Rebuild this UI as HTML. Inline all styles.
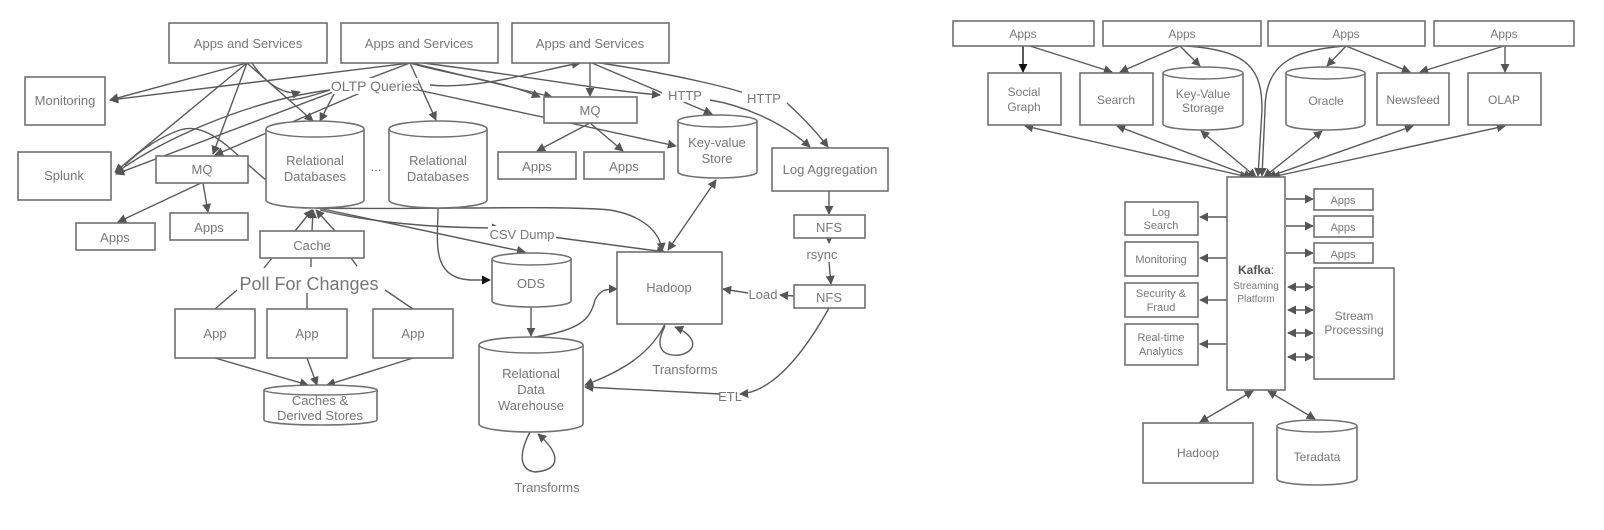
<!DOCTYPE html>
<html><head><meta charset="utf-8"><style>
html,body{margin:0;padding:0;background:#fff;}
svg{display:block;}
text{font-family:"Liberation Sans",sans-serif;fill:#777;text-anchor:middle;}
.b{fill:#fff;stroke:#707070;stroke-width:1.6;}
.l{fill:none;stroke:#5a5a5a;stroke-width:1.4;}
</style></head><body>
<svg width="1604" height="530" viewBox="0 0 1604 530" xmlns="http://www.w3.org/2000/svg">
<defs>
<marker id="a" viewBox="0 0 10 10" refX="9" refY="5" markerWidth="9" markerHeight="9" orient="auto-start-reverse" markerUnits="userSpaceOnUse"><path d="M0,0 L10,5 L0,10 z" fill="#555"/></marker>
<marker id="k" viewBox="0 0 10 10" refX="9" refY="5" markerWidth="9" markerHeight="9" orient="auto-start-reverse" markerUnits="userSpaceOnUse"><path d="M0,0 L10,5 L0,10 z" fill="#111"/></marker>
</defs>

<!-- ========== LEFT DIAGRAM ========== -->
<!-- connectors -->
<g class="l" marker-end="url(#a)">
<path d="M247,63 L110,100"/>
<path d="M247,63 L115,172"/>
<path d="M247,63 L213,154"/>
<path d="M247,63 L313,121"/>
<path d="M252,63 C270,90 290,95 300,92"/>
<path d="M335,92 L320,121"/>
<path d="M360,93 L215,155"/>
<path d="M330,90 C250,100 160,140 116,173"/>
<path d="M410,63 L110,100"/>
<path d="M410,63 L116,174"/>
<path d="M410,63 L436,120"/>
<path d="M418,90 L676,146"/>
<path d="M410,63 C450,75 500,80 540,97"/>
<path d="M412,63 L552,97"/>
<path d="M430,85 C480,90 540,70 580,63"/>
<path d="M590,63 L590,96"/>
<path d="M592,63 L712,114"/>
<path d="M415,62 C520,75 600,90 660,95"/>
<path d="M710,100 C740,105 780,120 810,147"/>
<path d="M600,63 C680,75 740,90 755,97"/>
<path d="M787,103 C800,115 815,130 828,147"/>
<path d="M590,123 L537,151"/>
<path d="M590,123 L623,151"/>
<path d="M201,183 L118,222"/>
<path d="M203,183 L208,212"/>
<path d="M295,231 L312,210"/>
<path d="M312,231 L313,210"/>
<path d="M335,231 L316,210"/>
<path d="M716,180 L668,250" marker-start="url(#a)"/>
<path d="M315,208 C420,210 560,205 610,210 C640,215 660,230 662,251"/>
<path d="M318,208 L525,252"/>
<path d="M320,210 C360,220 420,228 500,228"/>
<path d="M545,236 L665,252"/>
<path d="M531,307 L531,336"/>
<path d="M535,337 C580,330 590,320 595,300 C600,290 605,289 617,289"/>
<path d="M665,324 C650,355 620,372 585,385"/>
<path d="M829,308 C800,360 770,392 740,394"/>
<path d="M720,394 L585,387"/>
<path d="M829,238 L829,243"/>
<path d="M829,262 L831,284"/>
<path d="M829,191 L829,214"/>
<path d="M794,296 L780,295"/>
<path d="M748,293 L723,289"/>
<path d="M215,358 L308,385"/>
<path d="M307,358 L317,385"/>
<path d="M413,358 L327,385"/>
</g>
<path class="l" d="M438,208 C438,240 430,278 470,280 L490,280" stroke="#111" marker-end="url(#k)"/>
<path class="l" d="M266,180 C240,160 210,120 180,130 C160,137 140,150 125,165"/>
<path class="l" d="M330,90 C300,100 290,100 290,100"/>
<!-- poll lines -->
<g class="l">
<path d="M272,258 L264,268"/><path d="M311,258 L311,267"/><path d="M351,258 L357,266"/>
<path d="M237,290 L215,309"/><path d="M307,292 L307,309"/><path d="M385,290 L413,309"/>
</g>
<!-- self loops -->
<path class="l" d="M665,326 C655,345 660,357 680,355 C700,350 695,335 675,327" marker-end="url(#a)"/>
<path class="l" d="M530,432 C518,455 520,470 535,472 C560,470 562,455 538,434" marker-end="url(#a)"/>

<!-- boxes -->
<rect class="b" x="169" y="23" width="158" height="40"/><text x="248" y="48" font-size="13">Apps and Services</text>
<rect class="b" x="341" y="23" width="157" height="40"/><text x="419" y="48" font-size="13">Apps and Services</text>
<rect class="b" x="512" y="23" width="157" height="40"/><text x="590" y="48" font-size="13">Apps and Services</text>
<rect class="b" x="25" y="77" width="80" height="48"/><text x="65" y="105" font-size="13">Monitoring</text>
<rect class="b" x="18" y="152" width="93" height="48"/><text x="64" y="180" font-size="13">Splunk</text>
<rect class="b" x="156" y="156" width="92" height="27"/><text x="202" y="174" font-size="13">MQ</text>
<rect class="b" x="76" y="223" width="79" height="27"/><text x="115" y="242" font-size="13">Apps</text>
<rect class="b" x="170" y="213" width="78" height="27"/><text x="209" y="232" font-size="13">Apps</text>
<rect class="b" x="544" y="97" width="93" height="26"/><text x="590" y="115" font-size="13">MQ</text>
<rect class="b" x="498" y="152" width="78" height="27"/><text x="537" y="171" font-size="13">Apps</text>
<rect class="b" x="584" y="152" width="80" height="27"/><text x="624" y="171" font-size="13">Apps</text>
<rect class="b" x="772" y="148" width="116" height="43"/><text x="830" y="174" font-size="13">Log Aggregation</text>
<rect class="b" x="794" y="215" width="71" height="23"/><text x="829" y="232" font-size="13">NFS</text>
<rect class="b" x="794" y="285" width="71" height="23"/><text x="829" y="302" font-size="13">NFS</text>
<rect class="b" x="260" y="231" width="104" height="27"/><text x="312" y="250" font-size="13">Cache</text>
<rect class="b" x="175" y="309" width="80" height="49"/><text x="215" y="338" font-size="13">App</text>
<rect class="b" x="267" y="309" width="80" height="49"/><text x="307" y="338" font-size="13">App</text>
<rect class="b" x="373" y="309" width="80" height="49"/><text x="413" y="338" font-size="13">App</text>
<rect class="b" x="617" y="252" width="105" height="72"/><text x="669" y="292" font-size="13">Hadoop</text>

<!-- cylinders -->
<path class="b" d="M266,129 A49,8 0 0 1 364,129 L364,200 A49,8 0 0 1 266,200 Z"/><path class="l" d="M266,129 A49,8 0 0 0 364,129" style="stroke:#707070"/>
<text x="315" y="165" font-size="13">Relational</text><text x="315" y="181" font-size="13">Databases</text>
<path class="b" d="M389,129 A49,8 0 0 1 487,129 L487,200 A49,8 0 0 1 389,200 Z"/><path class="l" d="M389,129 A49,8 0 0 0 487,129" style="stroke:#707070"/>
<text x="438" y="165" font-size="13">Relational</text><text x="438" y="181" font-size="13">Databases</text>
<text x="376" y="171" font-size="13">...</text>
<path class="b" d="M678,121 A39.5,6 0 0 1 757,121 L757,172 A39.5,6 0 0 1 678,172 Z"/><path class="l" d="M678,121 A39.5,6 0 0 0 757,121" style="stroke:#707070"/>
<text x="717" y="147" font-size="13">Key-value</text><text x="717" y="163" font-size="13">Store</text>
<path class="b" d="M492,259 A39.5,6 0 0 1 571,259 L571,301 A39.5,6 0 0 1 492,301 Z"/><path class="l" d="M492,259 A39.5,6 0 0 0 571,259" style="stroke:#707070"/>
<text x="531" y="288" font-size="13">ODS</text>
<path class="b" d="M479,345 A52,8 0 0 1 583,345 L583,424 A52,8 0 0 1 479,424 Z"/><path class="l" d="M479,345 A52,8 0 0 0 583,345" style="stroke:#707070"/>
<text x="531" y="378" font-size="13">Relational</text><text x="531" y="394" font-size="13">Data</text><text x="531" y="410" font-size="13">Warehouse</text>
<path class="b" d="M264,390 A56.5,5 0 0 1 377,390 L377,420 A56.5,5 0 0 1 264,420 Z"/><path class="l" d="M264,390 A56.5,5 0 0 0 377,390" style="stroke:#707070"/>
<text x="320" y="405" font-size="13">Caches &amp;</text><text x="320" y="420" font-size="13">Derived Stores</text>

<!-- labels -->
<g font-size="13">
<rect x="332" y="78" width="86" height="16" fill="#fff"/><text x="375" y="91" font-size="14">OLTP Queries</text>
<rect x="662" y="88" width="44" height="14" fill="#fff"/><text x="685" y="100">HTTP</text>
<rect x="742" y="90" width="44" height="14" fill="#fff"/><text x="764" y="103">HTTP</text>
<rect x="488" y="226" width="68" height="14" fill="#fff"/><text x="522" y="239">CSV Dump</text>
<rect x="248" y="273" width="122" height="20" fill="#fff"/><text x="309" y="290" font-size="18">Poll For Changes</text>
<text x="822" y="259">rsync</text>
<text x="763" y="299">Load</text>
<text x="730" y="401">ETL</text>
<text x="685" y="374">Transforms</text>
<text x="547" y="492">Transforms</text>
</g>

<!-- ========== RIGHT DIAGRAM ========== -->
<g class="l" marker-end="url(#a)">
<path d="M1023,46 L1023,72" stroke="#111" marker-end="url(#k)"/>
<path d="M1030,46 L1112,72"/>
<path d="M1180,46 L1120,72"/>
<path d="M1180,46 L1200,66"/>
<path d="M1185,46 C1250,50 1262,70 1262,110 L1258,176"/>
<path d="M1346,46 C1290,50 1265,65 1265,110 L1262,176"/>
<path d="M1346,46 L1327,66"/>
<path d="M1346,46 L1410,72"/>
<path d="M1504,46 L1420,72"/>
<path d="M1505,46 L1505,72"/>
<path d="M1025,126 L1248,177" marker-start="url(#a)"/>
<path d="M1117,126 L1252,177" marker-start="url(#a)"/>
<path d="M1201,131 L1256,177" marker-start="url(#a)"/>
<path d="M1322,131 L1264,177" marker-start="url(#a)"/>
<path d="M1413,126 L1268,177" marker-start="url(#a)"/>
<path d="M1505,126 L1272,177" marker-start="url(#a)"/>
<path d="M1228,217 L1200,217"/>
<path d="M1228,258 L1200,258"/>
<path d="M1228,300 L1200,300"/>
<path d="M1228,344 L1200,344"/>
<path d="M1286,199 L1313,199"/>
<path d="M1286,226 L1313,226"/>
<path d="M1286,253 L1313,253"/>
<path d="M1288,287 L1313,287" marker-start="url(#a)"/>
<path d="M1288,310 L1313,310" marker-start="url(#a)"/>
<path d="M1288,333 L1313,333" marker-start="url(#a)"/>
<path d="M1288,357 L1313,357" marker-start="url(#a)"/>
<path d="M1253,391 L1200,422" marker-start="url(#a)"/>
<path d="M1268,391 L1315,419" marker-start="url(#a)"/>
</g>
<rect class="b" x="953" y="21" width="141" height="25"/><text x="1023" y="38" font-size="12">Apps</text>
<rect class="b" x="1103" y="21" width="158" height="25"/><text x="1182" y="38" font-size="12">Apps</text>
<rect class="b" x="1268" y="21" width="157" height="25"/><text x="1346" y="38" font-size="12">Apps</text>
<rect class="b" x="1434" y="21" width="140" height="25"/><text x="1504" y="38" font-size="12">Apps</text>
<rect class="b" x="988" y="73" width="73" height="52"/><text x="1024" y="96" font-size="12">Social</text><text x="1024" y="111" font-size="12">Graph</text>
<rect class="b" x="1080" y="73" width="73" height="52"/><text x="1116" y="104" font-size="12">Search</text>
<rect class="b" x="1377" y="73" width="72" height="52"/><text x="1413" y="104" font-size="12">Newsfeed</text>
<rect class="b" x="1468" y="73" width="73" height="52"/><text x="1504" y="104" font-size="12">OLAP</text>
<path class="b" d="M1163,73 A40,6 0 0 1 1243,73 L1243,124 A40,6 0 0 1 1163,124 Z"/><path class="l" d="M1163,73 A40,6 0 0 0 1243,73" style="stroke:#707070"/>
<text x="1203" y="98" font-size="12">Key-Value</text><text x="1203" y="112" font-size="12">Storage</text>
<path class="b" d="M1286,73 A39.5,6 0 0 1 1365,73 L1365,124 A39.5,6 0 0 1 1286,124 Z"/><path class="l" d="M1286,73 A39.5,6 0 0 0 1365,73" style="stroke:#707070"/>
<text x="1326" y="105" font-size="12">Oracle</text>
<rect class="b" x="1227" y="177" width="58" height="213"/>
<text x="1256" y="274" font-size="12" font-weight="bold" style="fill:#555">Kafka<tspan font-weight="normal">:</tspan></text>
<text x="1256" y="289" font-size="10">Streaming</text><text x="1256" y="302" font-size="10">Platform</text>
<rect class="b" x="1125" y="202" width="73" height="33"/><text x="1161" y="216" font-size="11">Log</text><text x="1161" y="229" font-size="11">Search</text>
<rect class="b" x="1125" y="242" width="73" height="34"/><text x="1161" y="263" font-size="11">Monitoring</text>
<rect class="b" x="1125" y="283" width="73" height="34"/><text x="1161" y="297" font-size="11">Security &amp;</text><text x="1161" y="311" font-size="11">Fraud</text>
<rect class="b" x="1125" y="324" width="73" height="41"/><text x="1161" y="341" font-size="11">Real-time</text><text x="1161" y="355" font-size="11">Analytics</text>
<rect class="b" x="1314" y="189" width="59" height="21"/><text x="1343" y="204" font-size="11">Apps</text>
<rect class="b" x="1314" y="216" width="59" height="21"/><text x="1343" y="231" font-size="11">Apps</text>
<rect class="b" x="1314" y="243" width="59" height="20"/><text x="1343" y="258" font-size="11">Apps</text>
<rect class="b" x="1314" y="268" width="80" height="111"/><text x="1354" y="320" font-size="12">Stream</text><text x="1354" y="334" font-size="12">Processing</text>
<rect class="b" x="1143" y="423" width="110" height="60"/><text x="1198" y="457" font-size="12">Hadoop</text>
<path class="b" d="M1277,426 A40,6 0 0 1 1357,426 L1357,479 A40,6 0 0 1 1277,479 Z"/><path class="l" d="M1277,426 A40,6 0 0 0 1357,426" style="stroke:#707070"/>
<text x="1317" y="461" font-size="12">Teradata</text>
</svg>
</body></html>
